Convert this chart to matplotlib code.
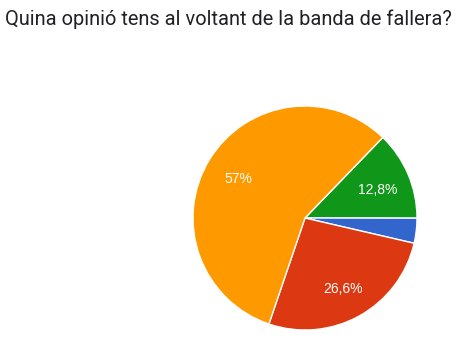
import numpy as np
import matplotlib.pyplot as plt

title = "Quina opinió tens al voltant de la banda de fallera?"
# slice order as drawn clockwise from the green one
values = [12.8, 3.6, 26.6, 57.0]
labels = ["12,8%", "", "26,6%", "57%"]
colors = ["#109618", "#3366cc", "#dc3912", "#ff9900"]

fig = plt.figure(figsize=(4.76, 3.48), dpi=100)
fig.text(5 / 476, 1 - 19 / 348, title, family="Roboto", fontsize=14.4,
         color="#202124", va="center", ha="left")

r = 112
cx, cy = 305, 218
ax = fig.add_axes([(cx - r) / 476, (348 - cy - r) / 348, 2 * r / 476, 2 * r / 348])
wedges, _ = ax.pie(values, colors=colors, startangle=46, counterclock=False,
                   radius=1, wedgeprops=dict(edgecolor="white", linewidth=1))
ax.set_xlim(-1, 1)
ax.set_ylim(-1, 1)
ax.set_aspect("equal")
ax.axis("off")

for w, lab in zip(wedges, labels):
    if not lab:
        continue
    ang = np.deg2rad((w.theta1 + w.theta2) / 2)
    ax.text(0.7 * np.cos(ang), 0.7 * np.sin(ang) - 0.02, lab, ha="center", va="center",
            color="white", fontsize=10, family="Liberation Sans")

fig.savefig("out.png", dpi=100)
